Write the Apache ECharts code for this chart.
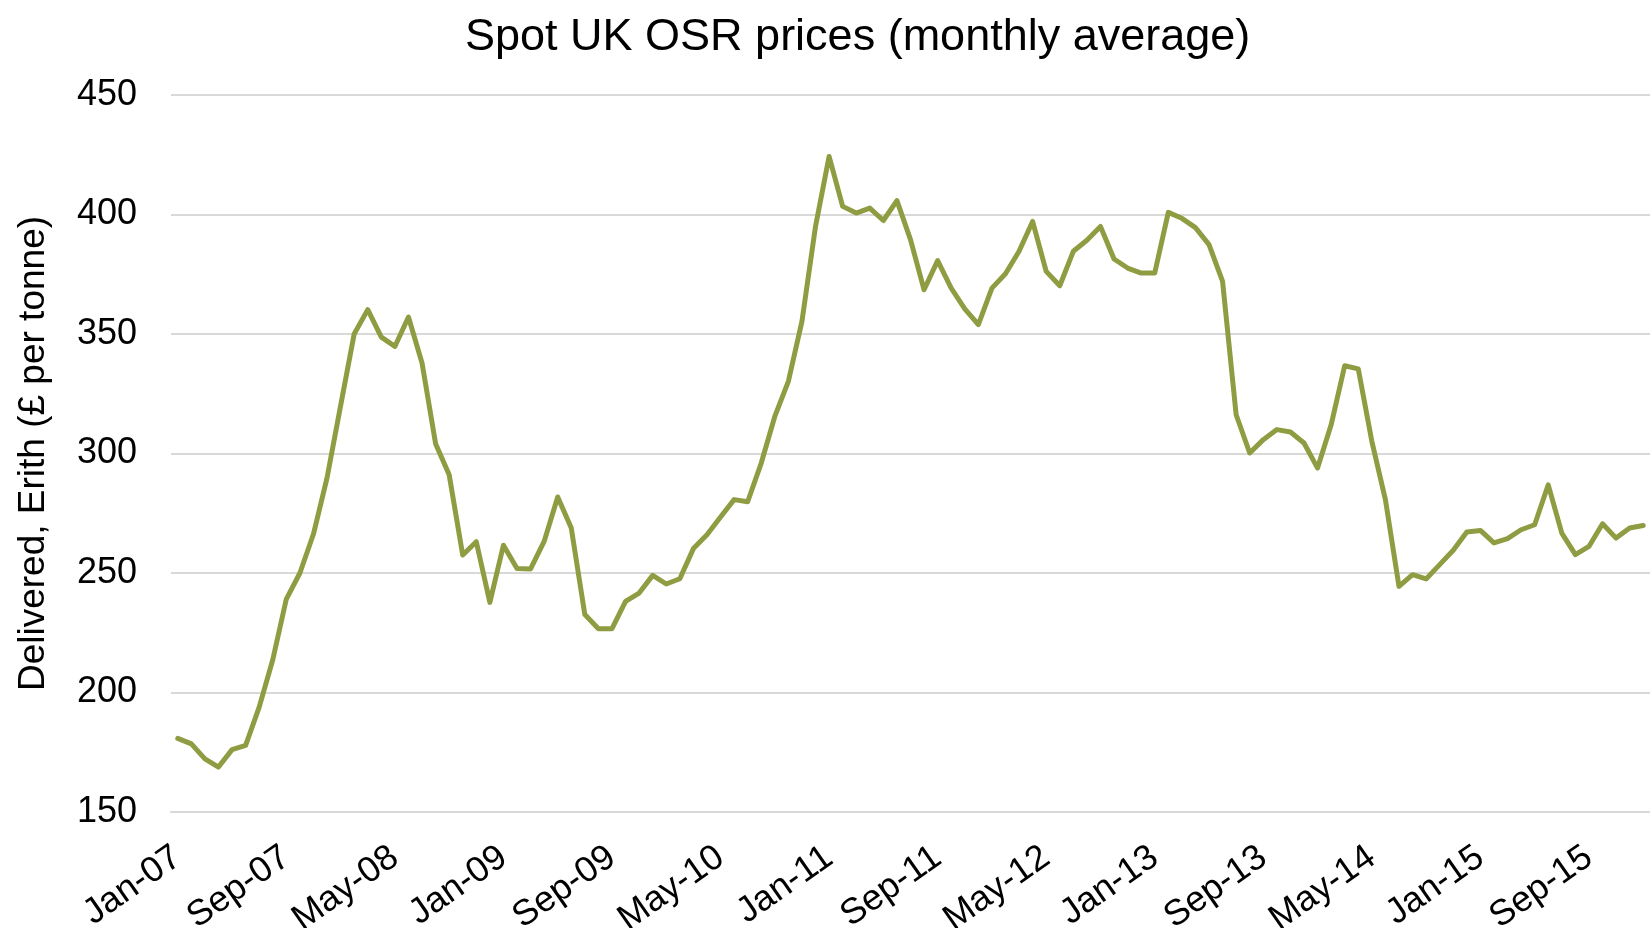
<!DOCTYPE html>
<html>
<head>
<meta charset="utf-8">
<title>Spot UK OSR prices</title>
<script src="https://cdn.jsdelivr.net/npm/echarts@6/dist/echarts.min.js"></script>
<style>
  html, body { margin: 0; padding: 0; background: #fff; }
  #chart { width: 1650px; height: 928px; }
</style>
</head>
<body>
<div id="chart"></div>
<script>
// month names and years for the category axis (Jan-07 .. Jan-16)
var monthNames = ['Jan', 'Feb', 'Mar', 'Apr', 'May', 'Jun', 'Jul', 'Aug', 'Sep', 'Oct', 'Nov', 'Dec'];
var years = ['07', '08', '09', '10', '11', '12', '13', '14', '15', '16'];

// monthly average spot price, delivered Erith, £ per tonne
var prices = [
  180.8, 178.5, 172.2, 168.8, 176.1, 177.9, 193.9, 213.7, 239.1, 250.0, 266.3, 289.8,   // 2007
  320.0, 350.0, 360.2, 348.7, 344.8, 357.1, 337.9, 304.1, 291.1, 257.5, 263.1, 237.7,   // 2008
  261.6, 251.9, 251.7, 263.2, 281.8, 268.8, 232.6, 226.7, 226.7, 238.1, 241.6, 249.0,   // 2009
  245.4, 247.6, 260.2, 266.0, 273.4, 280.7, 279.8, 296.0, 315.5, 330.2, 355.3, 395.0,   // 2010
  424.3, 403.4, 400.6, 402.7, 397.5, 405.8, 389.5, 368.5, 380.7, 369.2, 360.5, 353.9,   // 2011
  369.2, 375.2, 384.6, 397.1, 376.2, 370.2, 384.6, 389.2, 395.0, 381.4, 377.6, 375.5,   // 2012
  375.5, 400.9, 398.4, 394.5, 387.4, 372.0, 316.2, 300.2, 305.8, 310.0, 309.0, 304.4,   // 2013
  293.9, 312.0, 336.7, 335.4, 305.1, 280.7, 244.4, 249.3, 247.5, 253.5, 259.5, 267.2,   // 2014
  267.8, 262.6, 264.4, 268.1, 270.2, 286.9, 266.7, 257.7, 261.1, 270.6, 264.6, 268.8,   // 2015
  269.9                                                                                   // 2016
];

var categories = [];
for (var i = 0; i < prices.length; i++) {
  categories.push(monthNames[i % 12] + '-' + years[Math.floor(i / 12)]);
}

var myChart = echarts.init(document.getElementById('chart'));

var option = {
  backgroundColor: '#ffffff',
  textStyle: { fontFamily: 'Liberation Sans, Arial, sans-serif' },
  animation: false,
  title: {
    text: 'Spot UK OSR prices (monthly average)',
    left: 460,
    top: 10,
    textStyle: { fontSize: 45, fontWeight: 'normal', color: '#000' }
  },
  grid: {
    left: 171,
    right: 0,
    top: 95,
    bottom: 116,
    containLabel: false,
    outerBoundsMode: 'none'
  },
  xAxis: {
    type: 'category',
    data: categories,
    boundaryGap: true,
    axisLine: { show: true, lineStyle: { color: '#d9d9d9', width: 2 } },
    axisTick: { show: false },
    axisLabel: {
      interval: 7,
      rotate: 35,
      margin: 42,
      fontSize: 36,
      color: '#000'
    }
  },
  yAxis: {
    type: 'value',
    min: 150,
    max: 450,
    interval: 50,
    name: 'Delivered, Erith (£ per tonne)',
    nameLocation: 'middle',
    nameGap: 119,
    nameTextStyle: { fontSize: 37, color: '#000' },
    axisLine: { show: false },
    axisTick: { show: false },
    axisLabel: { fontSize: 36, color: '#000', margin: 34 },
    splitLine: { lineStyle: { color: '#d9d9d9', width: 2 } }
  },
  series: [
    {
      name: 'Spot UK OSR',
      type: 'line',
      data: prices,
      symbol: 'none',
      lineStyle: { color: '#909C41', width: 5, join: 'round', cap: 'round' }
    }
  ]
};

myChart.setOption(option);
</script>
</body>
</html>
